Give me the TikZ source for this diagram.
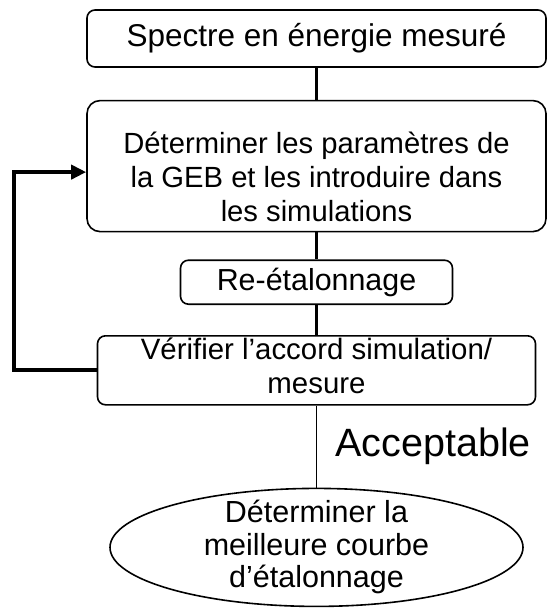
\documentclass[tikz,border=0pt]{standalone}
\usepackage{fontspec}
\setmainfont{Liberation Sans}
\usepackage{tikz}
\usetikzlibrary{arrows.meta,positioning,shapes.geometric}
\tikzset{
  box/.style={draw, rounded corners=8pt, line width=1.6pt, align=center, inner sep=0pt,
              minimum width=459pt, minimum height=57pt, font=\fontsize{30.4}{34}\selectfont},
  oval/.style={draw, ellipse, line width=1.6pt, align=center, inner xsep=0pt, inner ysep=-15pt,
               minimum width=413pt, minimum height=118pt, font=\fontsize{30.5}{32.5}\selectfont},
  link/.style={line width=3.5pt},
  thinlink/.style={line width=1.7pt},
  loopback/.style={line width=4pt, -{Triangle[length=15pt,width=14pt]}},
}

\begin{document}
\begin{tikzpicture}[node distance=30pt]
  \useasboundingbox (0,0) rectangle (547pt,-610pt);
  \node[box, font=\fontsize{31.5}{34}\selectfont] (spectre) at (316.5pt,-38.5pt) {Spectre en énergie mesuré};
  \node[box, font=\fontsize{29.2}{34}\selectfont, minimum height=131pt, rounded corners=13pt,
        below=32pt of spectre] (param)
    {\rule{0pt}{44pt}Déterminer les paramètres de\\ la GEB et les introduire dans\\ les simulations};
  \node[box, minimum width=272pt, minimum height=44pt, below=27pt of param] (reetal) {Re-étalonnage};
  \node[box, font=\fontsize{29.4}{34}\selectfont, minimum width=438pt, minimum height=69pt,
        below=of reetal] (verif)
    {Vérifier l’accord simulation/\\ mesure\rule[-9pt]{0pt}{0pt}};
  \node[oval, below=82pt of verif] (courbe) {Déterminer la\\ meilleure courbe\\ d’étalonnage};
  \draw[link] (spectre) -- (param);
  \draw[link] (param) -- (reetal);
  \draw[link] (reetal) -- (verif);
  \draw[thinlink] (verif) -- node[right=18pt, inner sep=0pt, font=\fontsize{39.5}{44}\selectfont] (accept) {Acceptable} (courbe);
  \draw[loopback] (verif.west) -- ++(-83pt,0) |- ([yshift=-6pt]param.west);
\end{tikzpicture}
\end{document}
